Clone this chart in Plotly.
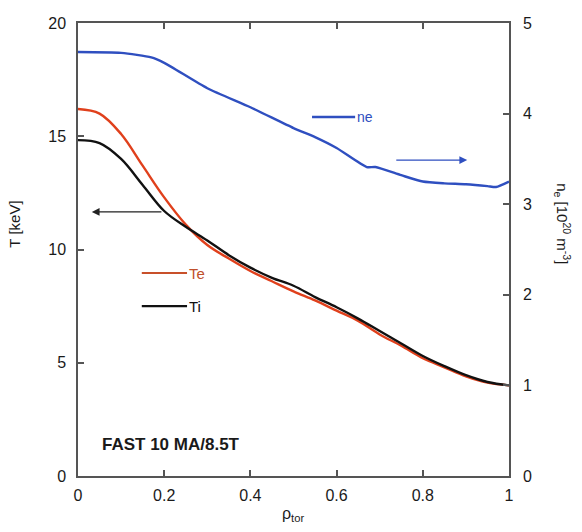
import plotly.graph_objects as go

rho = [0, 0.05, 0.1, 0.15, 0.2, 0.25, 0.3, 0.35, 0.4, 0.45, 0.5, 0.55, 0.6, 0.65, 0.7, 0.75, 0.8, 0.85, 0.9, 0.95, 1.0]
Ti = [14.83, 14.7, 14.0, 12.85, 11.7, 11.0, 10.4, 9.75, 9.2, 8.75, 8.4, 7.9, 7.45, 6.95, 6.4, 5.85, 5.3, 4.85, 4.45, 4.15, 4.0]
Te = [16.2, 16.0, 15.1, 13.7, 12.3, 11.1, 10.2, 9.6, 9.05, 8.6, 8.15, 7.75, 7.3, 6.85, 6.25, 5.75, 5.2, 4.8, 4.4, 4.12, 4.0]
rho_ne = [0, 0.1, 0.17, 0.2, 0.3, 0.4, 0.5, 0.55, 0.6, 0.67, 0.69, 0.75, 0.8, 0.85, 0.9, 0.95, 0.97, 1.0]
ne = [4.68, 4.67, 4.62, 4.56, 4.28, 4.07, 3.84, 3.74, 3.62, 3.41, 3.41, 3.32, 3.25, 3.23, 3.22, 3.20, 3.19, 3.25]

x_ticks = [0, 0.2, 0.4, 0.6, 0.8, 1]
x_ticklabels = ["0", "0.2", "0.4", "0.6", "0.8", "1"]
T_ticks = [0, 5, 10, 15, 20]
ne_ticks = [0, 1, 2, 3, 4, 5]

BLUE = "#2f4fc0"
RED = "#e0401c"
BLACK = "#111111"
AX = "#555555"
FONT = "Liberation Sans, Arial, sans-serif"

fig = go.Figure()
fig.add_trace(go.Scatter(x=rho_ne, y=ne, mode="lines", line=dict(color=BLUE, width=2.4, shape="spline", smoothing=0.6),
                         yaxis="y2", showlegend=False))
fig.add_trace(go.Scatter(x=rho, y=Te, mode="lines", line=dict(color=RED, width=2.4, shape="spline"), showlegend=False))
fig.add_trace(go.Scatter(x=rho, y=Ti, mode="lines", line=dict(color=BLACK, width=2.4, shape="spline"), showlegend=False))

axis_common = dict(showline=True, linecolor=AX, linewidth=1.5, ticks="inside", ticklen=6,
                   tickcolor=AX, tickwidth=1.5, showgrid=False, zeroline=False,
                   tickfont=dict(family=FONT, size=16, color="#1a1a1a"))

fig.update_layout(
    width=582, height=532,
    margin=dict(l=78, r=73, t=23, b=56),
    plot_bgcolor="white", paper_bgcolor="white",
    xaxis=dict(range=[0, 1], tickvals=x_ticks, ticktext=x_ticklabels, mirror="ticks", ticklabelstandoff=4, **axis_common),
    yaxis=dict(range=[0, 20], tickvals=T_ticks, ticklabelstandoff=7, **axis_common),
    yaxis2=dict(range=[0, 5], tickvals=ne_ticks, overlaying="y", side="right", ticklabelstandoff=9, **axis_common),
)

# axis titles
fig.add_annotation(text="T [keV]", xref="paper", yref="paper", x=-0.146, y=0.555, textangle=-90,
                   showarrow=False, font=dict(family=FONT, size=15, color="#1a1a1a"), xanchor="center", yanchor="middle")
fig.add_annotation(text="ρ<sub>tor</sub>", xref="paper", yref="paper", x=0.498, y=-0.086,
                   showarrow=False, font=dict(family=FONT, size=16, color="#1a1a1a"), xanchor="center", yanchor="middle")
fig.add_annotation(text="n<sub>e</sub> [10<sup>20</sup> m<sup>-3</sup>]", xref="paper", yref="paper", x=1.125, y=0.556,
                   textangle=90, showarrow=False, font=dict(family=FONT, size=15, color="#1a1a1a"),
                   xanchor="center", yanchor="middle")

# inline legend lines and labels
fig.add_shape(type="line", xref="x", yref="y", x0=0.148, x1=0.253, y0=8.96, y1=8.96, line=dict(color="#c8502a", width=2))
fig.add_shape(type="line", xref="x", yref="y", x0=0.148, x1=0.253, y0=7.5, y1=7.5, line=dict(color=BLACK, width=2.4))
fig.add_shape(type="line", xref="x", yref="y", x0=0.543, x1=0.643, y0=15.85, y1=15.85, line=dict(color=BLUE, width=2.4))
fig.add_annotation(text="Te", x=0.253, y=8.96, xanchor="left", showarrow=False,
                   font=dict(family=FONT, size=15, color="#c0502c"))
fig.add_annotation(text="Ti", x=0.253, y=7.5, xanchor="left", showarrow=False,
                   font=dict(family=FONT, size=15, color=BLACK))
fig.add_annotation(text="ne", x=0.643, y=15.85, xanchor="left", showarrow=False,
                   font=dict(family=FONT, size=14, color=BLUE))

# arrows
fig.add_annotation(x=0.032, y=11.66, ax=0.197, ay=11.66, axref="x", ayref="y", xref="x", yref="y",
                   text="", showarrow=True, arrowhead=2, arrowsize=1.3, arrowwidth=1.2, arrowcolor="#222222")
fig.add_annotation(x=0.903, y=13.95, ax=0.735, ay=13.95, axref="x", ayref="y", xref="x", yref="y",
                   text="", showarrow=True, arrowhead=2, arrowsize=1.3, arrowwidth=1.2, arrowcolor=BLUE)

fig.add_annotation(text="<b>FAST 10 MA/8.5T</b>", x=0.05, y=1.37, xanchor="left", yanchor="middle",
                   showarrow=False, font=dict(family=FONT, size=17, color="#1a1a1a"))

fig.write_html("out.html", config={"displayModeBar": False},
               post_script="document.body.style.margin='0px';")
